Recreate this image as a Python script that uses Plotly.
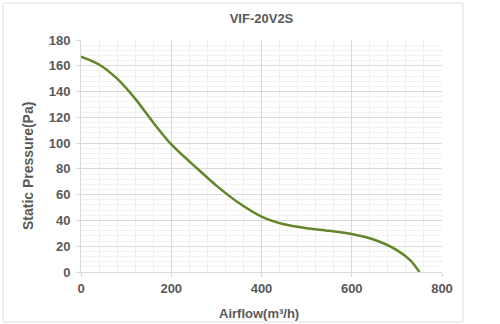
import plotly.graph_objects as go

airflow = [0, 40, 80, 120, 160, 200, 260, 300, 350, 400, 450, 500, 550, 600, 650, 700, 730, 750]
pressure = [167, 161, 150, 134.5, 116, 99, 79.5, 67, 53.5, 43, 37, 34, 32, 29.5, 25, 17, 9, 0]

title_text = "VIF-20V2S"
x_title = "Airflow(m³/h)"
y_title = "Static Pressure(Pa)"

fig = go.Figure()
fig.add_trace(go.Scatter(
    x=airflow, y=pressure, mode="lines",
    line=dict(color="#64862a", width=2.5, shape="spline", smoothing=0.7),
    showlegend=False, hoverinfo="skip"))

font_c = "#595959"
FONT = "Liberation Sans, Arial"
L, R, T, B = 81, 442, 40, 272
fig.update_layout(
    width=500, height=324,
    margin=dict(l=L, r=500 - R, t=T, b=324 - B),
    paper_bgcolor="white", plot_bgcolor="white",
    font=dict(family=FONT, color=font_c, size=13),
    title=dict(text="<b>%s</b>" % title_text, x=(L + R) / 2 / 500, xanchor="center",
               y=1 - 18 / 324, yanchor="middle", font=dict(size=13, color=font_c)),
    xaxis=dict(range=[0, 800], dtick=200, tickformat="d",
               showgrid=True, gridcolor="#d9d9d9", gridwidth=1,
               minor=dict(dtick=40, showgrid=True, gridcolor="#f0f0f0", gridwidth=1),
               showline=True, linecolor="#d9d9d9", zeroline=False,
               ticks="outside", ticklen=4, tickcolor="#d9d9d9",
               tickfont=dict(size=13, color=font_c, family=FONT)),
    yaxis=dict(range=[0, 180], dtick=20, ticklabelstandoff=3,
               showgrid=True, gridcolor="#d9d9d9", gridwidth=1,
               minor=dict(dtick=4, showgrid=True, gridcolor="#f3f3f3", gridwidth=1),
               showline=True, linecolor="#d9d9d9", zeroline=False,
               ticks="outside", ticklen=4, tickcolor="#d9d9d9",
               tickfont=dict(size=13, color=font_c, family=FONT)),
)
fig.update_xaxes(tickprefix="<b>", ticksuffix="</b>")
fig.update_yaxes(tickprefix="<b>", ticksuffix="</b>")

W_P, H_P = R - L, B - T
fig.add_annotation(text="<b>%s</b>" % x_title, xref="paper", yref="paper",
                   x=(259 - L) / W_P, y=(B - 313) / H_P, showarrow=False,
                   xanchor="center", yanchor="middle",
                   font=dict(size=13, color=font_c, family=FONT))
fig.add_annotation(text="<b>%s</b>" % y_title, xref="paper", yref="paper",
                   x=(28 - L) / W_P, y=(B - 166) / H_P, showarrow=False,
                   textangle=-90, xanchor="center", yanchor="middle",
                   font=dict(size=14, color=font_c, family=FONT))

# outer chart border
fig.add_shape(type="rect", xref="paper", yref="paper",
              x0=(3 - L) / W_P, x1=(463 - L) / W_P,
              y0=(B - 322) / H_P, y1=(B - 3) / H_P,
              line=dict(color="#e0e0e0", width=1), layer="below")

fig.write_html("out.html")
